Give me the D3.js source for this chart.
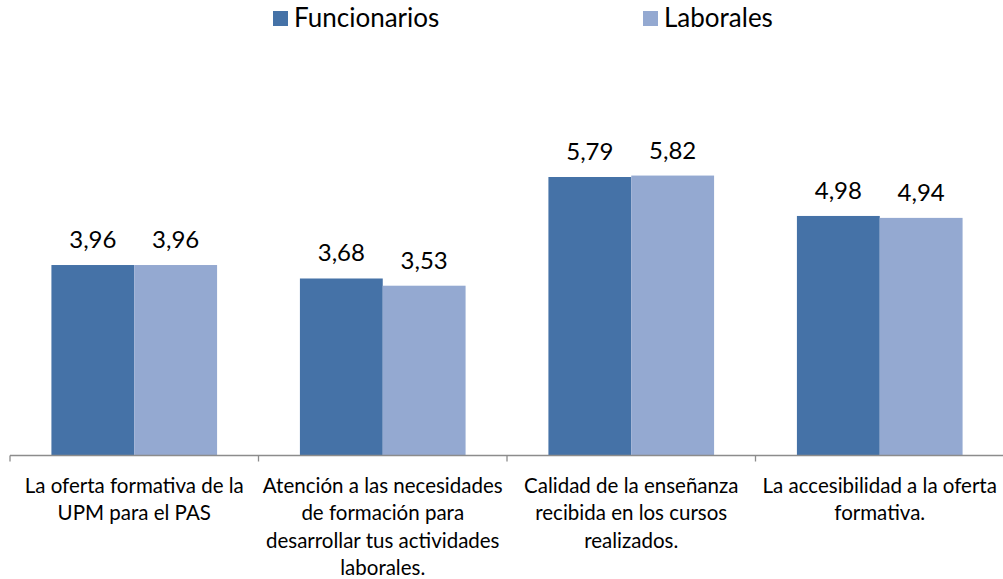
<!DOCTYPE html>
<html>
<head>
<meta charset="utf-8">
<script src="https://cdn.jsdelivr.net/npm/d3@7"></script>
<style>
  body { margin: 0; background: #fff; }
  svg { display: block; font-family: Lato, "Open Sans", sans-serif; }
</style>
</head>
<body>
<div id="chart"></div>
<script>
// Chart data
const categories = [
  ["La oferta formativa de la", "UPM para el PAS"],
  ["Atención a las necesidades", "de formación para", "desarrollar tus actividades", "laborales."],
  ["Calidad de la enseñanza", "recibida en los cursos", "realizados."],
  ["La accesibilidad a la oferta", "formativa."]
];
const seriesNames = ["Funcionarios", "Laborales"];
const funcionarios = [3.96, 3.68, 5.79, 4.98];
const laborales = [3.96, 3.53, 5.82, 4.94];
const colors = ["#4572A7", "#94A9D1"];

const width = 1003, height = 579;
const baseY = 455.5;

const svg = d3.select("#chart")
  .append("svg")
  .attr("width", width)
  .attr("height", height);

// Scales
const x0 = d3.scaleBand()
  .domain(d3.range(categories.length))
  .range([10, 1004])
  .paddingInner(0)
  .paddingOuter(0);

// gap between groups = one bar width
const x1 = d3.scaleBand()
  .domain(seriesNames)
  .range([0, x0.bandwidth()])
  .paddingInner(0)
  .paddingOuter(0.5);

const y = d3.scaleLinear()
  .domain([0, 8])
  .range([baseY, baseY - 8 * 48.1]);

const rows = categories.map((c, i) => ({
  i,
  values: [
    { name: seriesNames[0], v: funcionarios[i] },
    { name: seriesNames[1], v: laborales[i] }
  ]
}));

// Bars
const groups = svg.selectAll(".grp")
  .data(rows)
  .join("g")
  .attr("class", "grp")
  .attr("transform", d => `translate(${x0(d.i)},0)`);

groups.selectAll("rect")
  .data(d => d.values)
  .join("rect")
  .attr("x", d => x1(d.name))
  .attr("y", d => y(d.v))
  .attr("width", x1.bandwidth())
  .attr("height", d => y(0) - y(d.v))
  .attr("fill", (d, i) => colors[i]);

// Value labels
const fmt = v => d3.format(".2f")(v).replace(".", ",");
groups.selectAll(".val")
  .data(d => d.values)
  .join("text")
  .attr("class", "val")
  .attr("x", d => x1(d.name) + x1.bandwidth() / 2)
  .attr("y", d => y(d.v) - 17)
  .attr("text-anchor", "middle")
  .attr("font-size", "24px")
  .attr("fill", "#000")
  .text(d => fmt(d.v));

// X axis
const axis = svg.append("g")
  .attr("transform", `translate(0,${baseY})`);

axis.append("line")
  .attr("x1", 10).attr("x2", 1004)
  .attr("stroke", "#8c8c8c")
  .attr("stroke-width", 1.3);

axis.selectAll(".tick")
  .data(d3.range(categories.length + 1))
  .join("line")
  .attr("class", "tick")
  .attr("x1", i => i < categories.length ? x0(i) : 1004)
  .attr("x2", i => i < categories.length ? x0(i) : 1004)
  .attr("y1", 0).attr("y2", 6)
  .attr("stroke", "#8c8c8c")
  .attr("stroke-width", 1.3);

// Category labels
const catLabels = svg.selectAll(".cat")
  .data(rows)
  .join("text")
  .attr("class", "cat")
  .attr("x", d => x0(d.i) + x0.bandwidth() / 2)
  .attr("y", 493)
  .attr("text-anchor", "middle")
  .attr("font-size", "20.5px")
  .attr("fill", "#000");

catLabels.selectAll("tspan")
  .data(d => categories[d.i])
  .join("tspan")
  .attr("x", function() { return this.parentNode.getAttribute("x"); })
  .attr("dy", (d, i) => i === 0 ? 0 : 27.3)
  .text(d => d);

// Legend
const legendX = [273, 643];
const legend = svg.selectAll(".leg")
  .data(seriesNames)
  .join("g")
  .attr("class", "leg")
  .attr("transform", (d, i) => `translate(${legendX[i]},11)`);

legend.append("rect")
  .attr("width", 15).attr("height", 15)
  .attr("fill", (d, i) => colors[i]);

legend.append("text")
  .attr("x", 21)
  .attr("y", 9)
  .attr("font-size", "26px")
  .attr("dominant-baseline", "middle")
  .attr("fill", "#000")
  .text(d => d);
</script>
</body>
</html>
